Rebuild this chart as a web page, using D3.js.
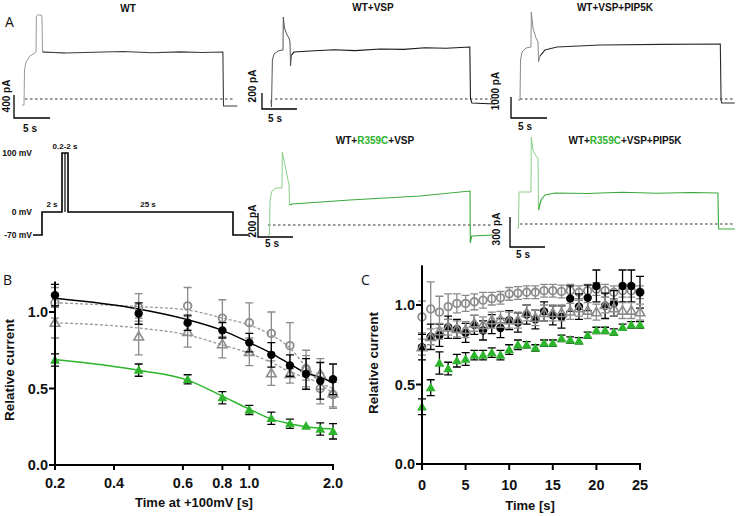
<!DOCTYPE html>
<html><head><meta charset="utf-8">
<script src="https://cdn.jsdelivr.net/npm/d3@7"></script>
<style>body{margin:0;background:#fff}</style>
</head><body><svg id="c" width="737" height="516"></svg>
<script>
// ---------- DATA ----------
// current traces: [time s, current pA]
const traceWT = [[0,-104],[0.28,-104],[0.35,504],[0.56,643],[1.1,748],[1.8,800],[1.95,817],[2.0,1443],[2.2,1461],[2.7,1461],[2.78,1409],[2.85,817],[6,800],[10,812],[14,825],[18,805],[22,820],[25,810],[27.9,817],[27.99,-122],[29.9,-122]];
const traceVSP = [[0,-12],[0.07,-100],[0.2,487],[0.43,562],[1.0,600],[1.57,612],[1.71,612],[1.76,1025],[1.93,887],[2.29,800],[2.57,762],[2.71,712],[2.79,412],[2.93,550],[3.29,587],[5.57,600],[9,615],[12,605],[15.6,625],[19,620],[22,640],[25,635],[28.4,650],[28.5,0],[28.7,-50],[32,-62]];
const traceVSPPIP = [[0,-48],[0.28,-48],[0.35,1857],[0.56,2238],[1.1,2428],[1.8,2476],[1.85,4143],[2.08,3381],[2.5,2905],[2.78,2714],[2.85,1762],[3.06,2048],[3.75,2333],[5.4,2476],[11.4,2571],[20,2600],[28.1,2619],[28.2,-48],[28.3,-190],[30.1,-190]];
const traceR359C = [[0,-83],[0.21,-83],[0.29,208],[0.57,283],[1.14,308],[2.0,308],[2.04,608],[2.29,542],[2.86,375],[3.0,342],[3.07,167],[3.43,175],[11.7,208],[21.7,242],[28.86,283],[28.9,-150],[29.1,-92],[32.1,-83]];
const traceR359CPIP = [[0,-40],[0.21,-40],[0.29,320],[2.0,320],[2.04,870],[2.29,740],[2.71,680],[3.0,660],[3.07,140],[3.43,240],[4.0,290],[5.43,310],[10,305],[15,318],[20,308],[25,315],[28.7,310],[28.8,-50],[31.1,-50]];
const traceTitles = ["WT","WT+VSP","WT+VSP+PIP5K","WT+R359C+VSP","WT+R359C+VSP+PIP5K"];
const scaleBarPA = [400,200,1000,200,300];
const scaleBarS = 5;
// protocol: [schematic time, mV]
const protocol = [[-0.9,-70],[0,-70],[0,0],[2,0],[2,100],[2.6,100],[2.6,0],[19.1,0],[19.1,-70],[20.6,-70]];
const protocolInner = [[2.3,100],[2.3,0]];
const protoLevels = [100,0,-70];
const protoLevelLabels = ["100 mV","0 mV","-70 mV"];

// Panel B
const bTimes = [0.2,0.4,0.6,0.8,1.0,1.2,1.4,1.6,1.8,2.0];
const bBlack = [1.11,0.99,0.93,0.88,0.80,0.72,0.65,0.595,0.55,0.56];
const bBlackErr = [0.07,0.07,0.05,0.05,0.06,0.08,0.07,0.10,0.12,0.10];
const bGrayCircle = [1.06,1.03,1.04,0.96,0.93,0.86,0.78,0.63,0.50,0.46];
const bGrayCircleErr = [0.10,0.09,0.12,0.12,0.13,0.14,0.15,0.12,0.10,0.08];
const bGrayTri = [0.93,0.84,0.87,0.79,0.74,0.60,0.595,0.635,0.595,0.47];
const bGrayTriErr = [0.10,0.12,0.10,0.09,0.09,0.08,0.06,0.08,0.10,0.10];
const bGreen = [0.686,0.62,0.56,0.44,0.36,0.305,0.27,0.255,0.235,0.22];
const bGreenErr = [0.04,0.04,0.03,0.04,0.03,0.04,0.03,0.0,0.04,0.05];
const bFitBlack = [1.09,1.02,0.95,0.88,0.80,0.73,0.66,0.60,0.575,0.535];
const bFitGrayCircle = [1.06,1.035,1.013,0.96,0.915,0.85,0.765,0.64,0.535,0.47];
const bFitGrayTri = [0.93,0.895,0.85,0.785,0.73,0.67,0.61,0.57,0.535,0.50];
const bFitGreen = [0.69,0.62,0.555,0.45,0.365,0.30,0.27,0.25,0.24,0.235];
const bXTickPos = [0.2,0.326,0.577,0.8,1.0,2.0];
const bXTickLabels = ["0.2","0.4","0.6","0.8","1.0","2.0"];
const yTicks = [0,0.5,1.0];
const yTickLabels = ["0.0","0.5","1.0"];

// Panel C
const cTimes = d3.range(0,26);
const cGrayCircle = [0.925,0.975,0.955,0.99,1.01,1.01,1.02,1.03,1.04,1.045,1.07,1.075,1.08,1.08,1.09,1.09,1.085,1.09,1.08,1.09,1.10,1.09,1.08,1.09,1.09,1.08];
const cGrayCircleErr = [0.10,0.17,0.10,0.08,0.06,0.05,0.05,0.05,0.04,0.04,0.04,0.04,0.04,0.04,0.04,0.04,0.04,0.04,0.04,0.04,0.04,0.04,0.04,0.04,0.04,0.04];
const cBlack = [0.735,0.80,0.81,0.86,0.85,0.825,0.875,0.84,0.88,0.855,0.905,0.89,0.94,0.91,0.96,0.935,0.925,1.04,0.99,1.045,1.12,0.995,1.01,1.12,1.12,1.08];
const cBlackErr = [0.08,0.08,0.07,0.07,0.06,0.06,0.06,0.06,0.06,0.06,0.06,0.06,0.06,0.06,0.06,0.06,0.07,0.08,0.08,0.08,0.10,0.08,0.08,0.10,0.10,0.10];
const cGrayTri = [0.735,0.80,0.835,0.86,0.85,0.845,0.885,0.875,0.905,0.91,0.905,0.905,0.95,0.92,0.95,0.95,0.95,0.96,0.98,0.965,0.955,1.0,0.98,0.965,0.965,0.955];
const cGrayTriErr = [0.05,0.05,0.05,0.05,0.05,0.05,0.05,0.05,0.05,0.05,0.05,0.05,0.05,0.05,0.05,0.05,0.05,0.05,0.05,0.05,0.05,0.05,0.05,0.05,0.05,0.05];
const cGreen = [0.36,0.48,0.635,0.60,0.65,0.66,0.685,0.685,0.70,0.685,0.72,0.75,0.75,0.73,0.76,0.76,0.79,0.78,0.775,0.81,0.84,0.84,0.83,0.86,0.875,0.875];
const cGreenErr = [0.05,0.05,0.07,0.04,0.04,0.04,0.03,0.03,0.03,0.03,0.03,0.03,0.02,0.02,0.02,0.02,0.02,0.02,0.02,0.02,0.02,0.02,0.02,0.02,0.02,0.02];
const cXTicks = [0,5,10,15,20,25];

// ---------- DRAW ----------
const svg = d3.select("#c");
svg.append("rect").attr("width",737).attr("height",516).attr("fill","#fff");
const FONT = "'Liberation Sans', Arial, sans-serif";
const GREEN = "#2db42d", TGREEN = "#3aa93a", LGREEN = "#8ccf8c", GRAY = "#8c8c8c";

function txt(x,y,s,o={}){
  const t = svg.append("text").attr("x",x).attr("y",y).text(s)
    .attr("font-family",o.family||FONT).attr("font-size",o.size||10)
    .attr("font-weight",o.weight||"bold").attr("fill",o.fill||"#111")
    .attr("text-anchor",o.anchor||"start");
  if(o.rot) t.attr("transform",`rotate(${o.rot},${x},${y})`);
  return t;
}
txt(5,27,"A",{size:14,weight:"normal",family:"'Open Sans',sans-serif"});
txt(3,285,"B",{size:14,weight:"normal",family:"'Open Sans',sans-serif"});
txt(361,285,"C",{size:14,weight:"normal",family:"'Open Sans',sans-serif"});

// trace panels config (positions)
const panels = [
  {data:traceWT, x0:22, pxs:7.2, zy:99, pxpa:23/400, color:"#3a3a3a", early:"#9a9a9a", bar:[-1.11,-330], dash:[0.42,29.6], title:[128,12], lbl:[10,96], sl:[30,132]},
  {data:traceVSP, x0:271, pxs:7.0, zy:99, pxpa:16/200, color:"#1a1a1a", early:"#555", bar:[-1.29,-125], dash:[0.57,32], title:[373,11], lbl:[256,86], sl:[275,122]},
  {data:traceVSPPIP, x0:518, pxs:7.2, zy:99, pxpa:21/1000, color:"#2a2a2a", early:"#888", bar:[-0.97,-905], dash:[0.28,30.1], title:[615,11], lbl:[499,91], sl:[525,130]},
  {data:traceR359C, x0:268, pxs:7.0, zy:225, pxpa:24/200, color:TGREEN, early:LGREEN, bar:[-1.43,-100], dash:[0,32.1], title:[375,144], lbl:[256,221], sl:[272,247]},
  {data:traceR359CPIP, x0:517, pxs:7.0, zy:224, pxpa:30/300, color:TGREEN, early:LGREEN, bar:[-1.0,-230], dash:[0.43,31.1], title:[625,144], lbl:[500,229], sl:[523,258]}
];
panels.forEach((p,i)=>{
  const x = d3.scaleLinear().domain([0,1]).range([p.x0,p.x0+p.pxs]);
  const y = d3.scaleLinear().domain([0,1]).range([p.zy,p.zy-p.pxpa]);
  svg.append("line").attr("x1",x(p.dash[0])).attr("x2",x(p.dash[1])).attr("y1",y(0)).attr("y2",y(0))
    .attr("stroke","#777").attr("stroke-width",1.5).attr("stroke-dasharray","2.5,2.5");
  const line = d3.line().x(d=>x(d[0])).y(d=>y(d[1]));
  const split = p.data.findIndex(d=>d[0]>3.2);
  svg.append("path").datum(p.data.slice(0,split+1)).attr("d",line)
    .attr("fill","none").attr("stroke",p.early).attr("stroke-width",1);
  svg.append("path").datum(p.data.slice(split-1)).attr("d",line)
    .attr("fill","none").attr("stroke",p.color).attr("stroke-width",1.1);
  const [bt,bi] = p.bar;
  svg.append("path").attr("d",`M${x(bt)},${y(bi+scaleBarPA[i])}V${y(bi)}H${x(bt+scaleBarS)}`)
    .attr("fill","none").attr("stroke","#000").attr("stroke-width",1.3);
  txt(p.lbl[0],p.lbl[1],scaleBarPA[i]+" pA",{size:10,anchor:"middle",rot:-90});
  txt(p.sl[0],p.sl[1],scaleBarS+" s",{size:10,anchor:"middle"});
  const title = traceTitles[i];
  const t = txt(p.title[0],p.title[1],"",{size:10,anchor:"middle"});
  if(title.includes("R359C")){
    const parts = title.split("R359C");
    t.append("tspan").text(parts[0]);
    t.append("tspan").text("R359C").attr("fill",GREEN);
    t.append("tspan").text(parts[1]);
  } else t.text(title);
});

// protocol
{
  const x = d3.scaleLinear().domain([0,1]).range([42,52]);
  const y = d3.scaleLinear().domain([-70,0,100]).range([235,212,153]);
  svg.append("path").datum(protocol).attr("d",d3.line().x(d=>x(d[0])).y(d=>y(d[1])))
    .attr("fill","none").attr("stroke","#000").attr("stroke-width",1.6);
  svg.append("path").datum(protocolInner).attr("d",d3.line().x(d=>x(d[0])).y(d=>y(d[1])))
    .attr("fill","none").attr("stroke","#000").attr("stroke-width",1.2);
  protoLevels.forEach((v,i)=>txt(32,y(v)+3,protoLevelLabels[i],{size:8.5,anchor:"end"}));
  txt(x(2.3),y(100)-4,"0.2-2 s",{size:8,anchor:"middle"});
  txt(x(1),y(0)-5,"2 s",{size:8,anchor:"middle"});
  txt(x(10.6),y(0)-5,"25 s",{size:8,anchor:"middle"});
}

// helpers for scatter panels
function drawSeries(g,x,y,xs,vals,errs,kind){
  const col = kind==="black"?"#000":kind==="green"?"#000":"#8a8a8a";
  xs.forEach((t,i)=>{
    const e = errs[i]; if(e<=0) return;
    const cx = x(t);
    g.append("path").attr("d",`M${cx},${y(vals[i]-e)}V${y(vals[i]+e)}M${cx-4},${y(vals[i]+e)}H${cx+4}M${cx-4},${y(vals[i]-e)}H${cx+4}`)
      .attr("stroke",col).attr("stroke-width",1.3).attr("fill","none");
  });
  xs.forEach((t,i)=>{
    const cx=x(t), cy=y(vals[i]);
    if(kind==="black") g.append("circle").attr("cx",cx).attr("cy",cy).attr("r",4.2).attr("fill","#000");
    else if(kind==="grayc") g.append("circle").attr("cx",cx).attr("cy",cy).attr("r",3.8).attr("fill","none").attr("stroke",GRAY).attr("stroke-width",1.8);
    else {
      const path = d3.symbol().type(d3.symbolTriangle).size(kind==="green"?42:40)();
      const s = g.append("path").attr("d",path).attr("transform",`translate(${cx},${cy+0.8})`);
      if(kind==="green") s.attr("fill",GREEN);
      else s.attr("fill","none").attr("stroke",GRAY).attr("stroke-width",1.6);
    }
  });
}
function yAxis(x0,y,lblX,lblY){
  const g = svg.append("g");
  g.append("line").attr("x1",x0).attr("x2",x0).attr("y1",y(0)+1).attr("y2",y(y.domain()[1])).attr("stroke","#000").attr("stroke-width",2);
  yTicks.forEach((v,i)=>{
    g.append("line").attr("x1",x0-6).attr("x2",x0).attr("y1",y(v)).attr("y2",y(v)).attr("stroke","#000").attr("stroke-width",2);
    txt(x0-7,y(v)+5,yTickLabels[i],{size:14.5,anchor:"end"});
  });
  txt(lblX,lblY,"Relative current",{size:13.5,anchor:"middle",rot:-90});
}

// Panel B
{
  const x = d3.scaleLog().domain([0.2,2]).range([55,333]);
  const y = d3.scaleLinear().domain([0,1.2]).range([465,281.4]);
  const g = svg.append("g");
  const ln = d3.line().x(d=>x(d[0])).y(d=>y(d[1])).curve(d3.curveMonotoneX);
  g.append("path").datum(bTimes.map((t,i)=>[t,bFitGrayCircle[i]])).attr("d",ln).attr("fill","none").attr("stroke","#999").attr("stroke-width",1.3).attr("stroke-dasharray","3,2");
  g.append("path").datum(bTimes.map((t,i)=>[t,bFitGrayTri[i]])).attr("d",ln).attr("fill","none").attr("stroke","#999").attr("stroke-width",1.3).attr("stroke-dasharray","3,2");
  g.append("path").datum(bTimes.map((t,i)=>[t,bFitBlack[i]])).attr("d",ln).attr("fill","none").attr("stroke","#000").attr("stroke-width",1.4);
  g.append("path").datum(bTimes.map((t,i)=>[t,bFitGreen[i]])).attr("d",ln).attr("fill","none").attr("stroke",GREEN).attr("stroke-width",1.5);
  drawSeries(g,x,y,bTimes,bGrayCircle,bGrayCircleErr,"grayc");
  drawSeries(g,x,y,bTimes,bGrayTri,bGrayTriErr,"grayt");
  drawSeries(g,x,y,bTimes,bBlack,bBlackErr,"black");
  drawSeries(g,x,y,bTimes,bGreen,bGreenErr,"green");
  yAxis(55,y,14,370);
  svg.append("line").attr("x1",54).attr("x2",x(2)+1).attr("y1",y(0)).attr("y2",y(0)).attr("stroke","#000").attr("stroke-width",2);
  bXTickPos.forEach((v,i)=>{
    svg.append("line").attr("x1",x(v)).attr("x2",x(v)).attr("y1",y(0)).attr("y2",y(0)+5).attr("stroke","#000").attr("stroke-width",2);
    txt(x(v),y(0)+23,bXTickLabels[i],{size:14.5,anchor:"middle"});
  });
  txt(194,507,"Time at +100mV [s]",{size:13,anchor:"middle"});
}

// Panel C
{
  const x = d3.scaleLinear().domain([0,25]).range([422,640]);
  const y = d3.scaleLinear().domain([0,1.25]).range([464,265.25]);
  const g = svg.append("g");
  drawSeries(g,x,y,cTimes,cGrayCircle,cGrayCircleErr,"grayc");
  drawSeries(g,x,y,cTimes,cBlack,cBlackErr,"black");
  drawSeries(g,x,y,cTimes,cGrayTri,cGrayTriErr,"grayt");
  drawSeries(g,x,y,cTimes,cGreen,cGreenErr,"green");
  yAxis(422,y,378,363);
  svg.append("line").attr("x1",421).attr("x2",x(25)+1).attr("y1",y(0)).attr("y2",y(0)).attr("stroke","#000").attr("stroke-width",2);
  cXTicks.forEach(v=>{
    svg.append("line").attr("x1",x(v)).attr("x2",x(v)).attr("y1",y(0)).attr("y2",y(0)+6).attr("stroke","#000").attr("stroke-width",2);
    txt(x(v),y(0)+26,String(v),{size:14.5,anchor:"middle"});
  });
  txt(530,510,"Time [s]",{size:13,anchor:"middle"});
}
</script></body></html>
